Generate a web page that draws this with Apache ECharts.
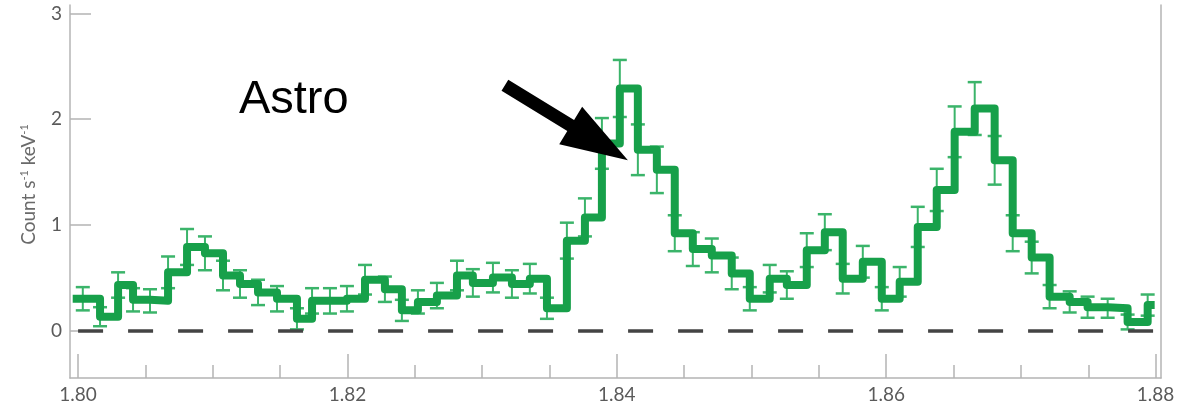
<!DOCTYPE html>
<html>
<head>
<meta charset="utf-8">
<script src="https://cdn.jsdelivr.net/npm/echarts@6/dist/echarts.min.js"></script>
<style>
  html, body { margin: 0; padding: 0; background: #ffffff; }
  #chart { width: 1181px; height: 408px; }
</style>
</head>
<body>
<div id="chart"></div>
<script>
// Energy of each spectral bin (keV)
const energy = [
  1.80035, 1.80163, 1.80297, 1.80408, 1.80534, 1.80668, 1.80809, 1.80942, 1.81076, 1.81202,
  1.81336, 1.81477, 1.81625, 1.81737, 1.81870, 1.81996, 1.82130, 1.82278, 1.82404, 1.82523,
  1.82664, 1.82813, 1.82931, 1.83080, 1.83221, 1.83354, 1.83481, 1.83629, 1.83763, 1.83889,
  1.84022, 1.84156, 1.84297, 1.84430, 1.84564, 1.84705, 1.84853, 1.84987, 1.85135, 1.85262,
  1.85410, 1.85544, 1.85677, 1.85826, 1.85967, 1.86100, 1.86234, 1.86375, 1.86508, 1.86657,
  1.86805, 1.86939, 1.87080, 1.87213, 1.87362, 1.87495, 1.87644, 1.87792, 1.87941
];
// Count rate in each bin (count s^-1 keV^-1)
const counts = [
  0.30, 0.13, 0.43, 0.29, 0.28, 0.55, 0.79, 0.73, 0.52, 0.44,
  0.36, 0.30, 0.11, 0.28, 0.28, 0.30, 0.48, 0.39, 0.19, 0.27,
  0.33, 0.52, 0.45, 0.50, 0.44, 0.49, 0.21, 0.85, 1.07, 1.77,
  2.29, 1.71, 1.52, 0.92, 0.77, 0.71, 0.54, 0.30, 0.49, 0.43,
  0.76, 0.93, 0.49, 0.65, 0.30, 0.46, 0.98, 1.33, 1.88, 2.10,
  1.61, 0.92, 0.69, 0.32, 0.27, 0.22, 0.21, 0.08, 0.24
];
// 1-sigma uncertainty of each bin
const errors = [
  0.11, 0.09, 0.12, 0.11, 0.11, 0.15, 0.17, 0.16, 0.14, 0.13,
  0.12, 0.12, 0.10, 0.12, 0.12, 0.12, 0.14, 0.12, 0.10, 0.11,
  0.12, 0.14, 0.13, 0.14, 0.13, 0.14, 0.10, 0.17, 0.18, 0.24,
  0.27, 0.24, 0.22, 0.17, 0.16, 0.16, 0.15, 0.11, 0.13, 0.13,
  0.16, 0.17, 0.14, 0.15, 0.11, 0.14, 0.19, 0.20, 0.24, 0.25,
  0.23, 0.17, 0.15, 0.11, 0.10, 0.10, 0.09, 0.07, 0.10
];
// Outer edges of the histogram
const stepStart = 1.7996;
const stepEnd = 1.87993;

// Axis ticks
const xMajorTicks = [1.80, 1.82, 1.84, 1.86, 1.88];
const xMinorTicks = [1.800, 1.805, 1.810, 1.815, 1.820, 1.825, 1.830, 1.835, 1.840,
                     1.845, 1.850, 1.855, 1.860, 1.865, 1.870, 1.875, 1.880];
const yTicks = [0, 1, 2, 3];

// Annotation
const noteText = 'Astro';
const arrowTail = [1.83169, 2.32];
const arrowTip = [1.84082, 1.61];

const X_MIN = 1.7994, X_MAX = 1.8804, Y_MIN = -0.45, Y_MAX = 3.08;
const GREEN = '#17a04a';
const GREEN_ERR = '#3bb46a';
const AXIS_GREY = '#b4b4b4';
const LABEL_GREY = '#5a5a5a';

const stepData = [[stepStart, counts[0]]];
for (let i = 1; i < energy.length; i++) stepData.push([energy[i], counts[i]]);
stepData.push([stepEnd, counts[counts.length - 1]]);

const errData = energy.map((e, i) => [e, counts[i], errors[i]]);

const chart = echarts.init(document.getElementById('chart'), null, { renderer: 'canvas' });

const option = {
  backgroundColor: '#ffffff',
  animation: false,
  grid: { left: 70, right: 20, top: 5, bottom: 30, containLabel: false },
  xAxis: [
    {
      type: 'value', min: X_MIN, max: X_MAX, position: 'bottom',
      axisLine: { show: true, onZero: false, lineStyle: { color: AXIS_GREY, width: 1.5 } },
      axisTick: { show: true, inside: true, length: 24, customValues: xMajorTicks,
                  lineStyle: { color: AXIS_GREY, width: 1.5 } },
      axisLabel: { show: true, customValues: xMajorTicks, margin: 7,
                   formatter: v => v.toFixed(2),
                   fontFamily: 'Lato', fontSize: 19, color: LABEL_GREY },
      splitLine: { show: false }
    },
    {
      type: 'value', min: X_MIN, max: X_MAX, position: 'bottom',
      axisLine: { show: false, onZero: false },
      axisTick: { show: true, inside: true, length: 13, customValues: xMinorTicks,
                  lineStyle: { color: AXIS_GREY, width: 1.5 } },
      axisLabel: { show: false },
      splitLine: { show: false }
    }
  ],
  yAxis: [
    {
      type: 'value', min: Y_MIN, max: Y_MAX, position: 'left',
      name: 'Count s{sup|-1} keV{sup|-1}',
      nameLocation: 'middle', nameGap: 32, nameRotate: 90,
      nameTextStyle: {
        fontFamily: 'Lato', fontSize: 19, color: '#6a6a6a',
        padding: [0, 0, 0, 14],
        rich: { sup: { fontFamily: 'Lato', fontSize: 11, color: '#6a6a6a', verticalAlign: 'top', lineHeight: 18 } }
      },
      axisLine: { show: true, onZero: false, lineStyle: { color: AXIS_GREY, width: 1.5 } },
      axisTick: { show: true, inside: true, length: 21, customValues: yTicks,
                  lineStyle: { color: AXIS_GREY, width: 1.5 } },
      axisLabel: { show: true, customValues: yTicks, margin: 8,
                   fontFamily: 'Lato', fontSize: 19, color: LABEL_GREY },
      splitLine: { show: false }
    },
    {
      type: 'value', min: Y_MIN, max: Y_MAX, position: 'right',
      axisLine: { show: true, onZero: false, lineStyle: { color: AXIS_GREY, width: 1.5 } },
      axisTick: { show: false }, axisLabel: { show: false }, splitLine: { show: false }
    }
  ],
  series: [
    {
      // zero level reference
      type: 'line', data: [], silent: true,
      markLine: {
        silent: true, symbol: 'none', label: { show: false },
        lineStyle: { color: '#444444', width: 3.5, type: [25, 25], cap: 'butt' },
        data: [[{ coord: [1.80, 0] }, { coord: [X_MAX, 0] }]]
      }
    },
    {
      type: 'custom', name: 'errors', z: 2,
      data: errData,
      renderItem: function (params, api) {
        const x = api.value(0), v = api.value(1), e = api.value(2);
        const top = api.coord([x, v + e]);
        const bot = api.coord([x, v - e]);
        const hw = 7;
        const st = { stroke: GREEN_ERR, lineWidth: 2 };
        return {
          type: 'group',
          children: [
            { type: 'line', shape: { x1: top[0], y1: top[1], x2: bot[0], y2: bot[1] }, style: st },
            { type: 'line', shape: { x1: top[0] - hw, y1: top[1], x2: top[0] + hw, y2: top[1] }, style: { stroke: GREEN_ERR, lineWidth: 2.5 } },
            { type: 'line', shape: { x1: bot[0] - hw, y1: bot[1], x2: bot[0] + hw, y2: bot[1] }, style: { stroke: GREEN_ERR, lineWidth: 2.5 } }
          ]
        };
      }
    },
    {
      type: 'line', name: 'spectrum', z: 3,
      step: 'end', showSymbol: false, symbol: 'none',
      data: stepData,
      lineStyle: { color: GREEN, width: 8, join: 'round', cap: 'butt' }
    }
  ]
};

chart.setOption(option);

// Arrow pointing at the line feature, placed in data coordinates
const t = chart.convertToPixel({ gridIndex: 0 }, arrowTail);
const p = chart.convertToPixel({ gridIndex: 0 }, arrowTip);
const dx = p[0] - t[0], dy = p[1] - t[1];
const len = Math.hypot(dx, dy);
const ux = dx / len, uy = dy / len, nx = -uy, ny = ux;
const headLen = 67, headHalf = 22, shaftHalf = 6.5;
const bx = p[0] - ux * headLen, by = p[1] - uy * headLen;
const arrowPts = [
  [t[0] + nx * shaftHalf, t[1] + ny * shaftHalf],
  [bx + nx * shaftHalf, by + ny * shaftHalf],
  [bx + nx * headHalf, by + ny * headHalf],
  [p[0], p[1]],
  [bx - nx * headHalf, by - ny * headHalf],
  [bx - nx * shaftHalf, by - ny * shaftHalf],
  [t[0] - nx * shaftHalf, t[1] - ny * shaftHalf]
];
const notePos = chart.convertToPixel({ gridIndex: 0 }, [1.81194, 2.18]);

chart.setOption({
  graphic: [
    { type: 'polygon', z: 10, shape: { points: arrowPts }, style: { fill: '#000000' } },
    { type: 'text', z: 10, x: notePos[0], y: notePos[1],
      style: { text: noteText, fill: '#000000', font: '47px "Liberation Sans", Arial, sans-serif',
               textAlign: 'left', textVerticalAlign: 'middle' } }
  ]
});
</script>
</body>
</html>
